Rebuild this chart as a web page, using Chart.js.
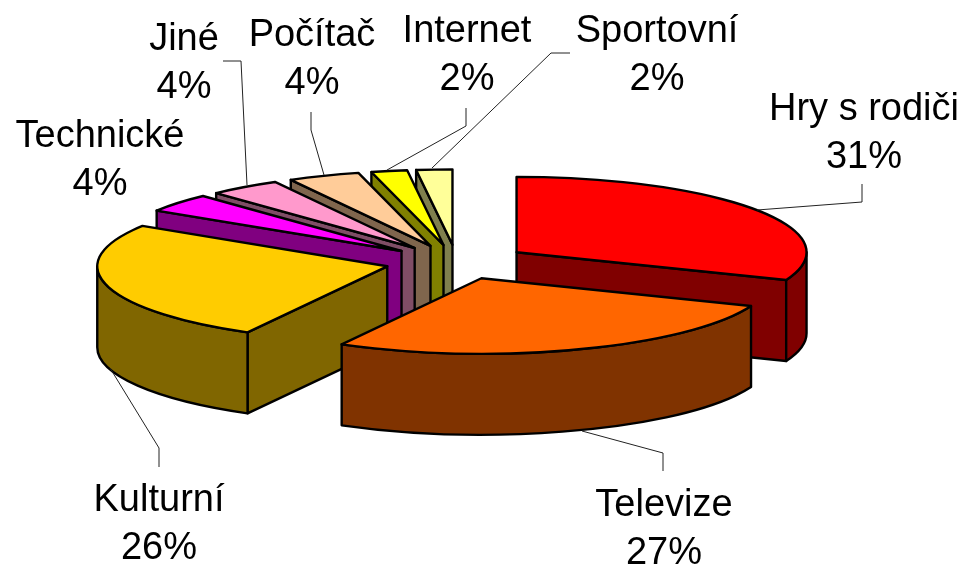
<!DOCTYPE html>
<html>
<head>
<meta charset="utf-8">
<style>html,body{margin:0;padding:0;background:#fff}canvas{display:block}</style>
<script src="https://cdn.jsdelivr.net/npm/chart.js@4"></script>
</head>
<body>
<canvas id="c" width="961" height="565"></canvas>
<script>
const categories = ['Hry s rodiči','Televize','Kulturní','Technické','Jiné','Počítač','Internet','Sportovní'];
const shares = [31,27,26,4,4,4,2,2];
const topColors = ['#FF0000','#FF6600','#FFCC00','#FF00FF','#FF99CC','#FFCC99','#FFFF00','#FFFF99'];
const sideColors = ['#800000','#803300','#806600','#800080','#804D66','#80664D','#808000','#80804D'];
const drawOrder = [7,6,5,4,3,2,0,1];
const labelCentres = [864,664,159,100,184,312,467,657];
const labelBaselines = [120,516,511,147,50,46,42,42];
const leaders = [
  [[757,210],[862,202],[862,184]],
  [[582,431],[663,453],[663,471]],
  [[110,368],[159,448],[159,467]],
  [],
  [[247,185],[241,61],[223,61]],
  [[324,175],[311,130],[311,112]],
  [[387,170],[466,126],[466,108]],
  [[432,168],[551,53],[570,53]]
];
const TILT = 0.26, DEPTH = 81, EXPLODE = 72, EXPLODE_TILT = 0.24, LINE_GAP = 47.5;

const pie3d = {
  id: 'pie3d',
  beforeDatasetDraw(chart) {
    const ctx = chart.ctx, arcs = chart.getDatasetMeta(0).data;
    drawOrder.forEach(i => {
      const a = arcs[i], mid = (a.startAngle + a.endAngle) / 2;
      const ox = a.x + Math.cos(mid) * EXPLODE;
      const oy = a.y + Math.sin(mid) * EXPLODE * EXPLODE_TILT;
      const R = a.outerRadius;
      const pt = t => [ox + R * Math.cos(t), oy + R * Math.sin(t) * TILT];
      const quad = t => {
        const p = pt(t);
        ctx.beginPath();
        ctx.moveTo(ox, oy); ctx.lineTo(p[0], p[1]);
        ctx.lineTo(p[0], p[1] + DEPTH); ctx.lineTo(ox, oy + DEPTH);
        ctx.closePath(); ctx.fill(); ctx.stroke();
      };
      ctx.save();
      ctx.fillStyle = sideColors[i];
      ctx.strokeStyle = '#000';
      ctx.lineWidth = 2.4;
      ctx.lineJoin = 'round';
      if (Math.cos(a.startAngle) < -1e-6) quad(a.startAngle);
      if (Math.cos(a.endAngle) > 1e-6) quad(a.endAngle);
      // outer wall: visible part of the rim
      const tau = Math.PI * 2;
      for (let k = -1; k <= 1; k++) {
        const s = Math.max(a.startAngle, k * tau), e = Math.min(a.endAngle, k * tau + Math.PI);
        if (e > s) {
          ctx.beginPath();
          ctx.ellipse(ox, oy, R, R * TILT, 0, s, e, false);
          ctx.ellipse(ox, oy + DEPTH, R, R * TILT, 0, e, s, true);
          ctx.closePath(); ctx.fill(); ctx.stroke();
        }
      }
      // top face, drawn by the library's own arc element
      ctx.save();
      ctx.translate(ox, oy);
      ctx.scale(1, TILT);
      ctx.translate(-a.x, -a.y);
      a.draw(ctx);
      ctx.restore();
      ctx.beginPath();
      ctx.moveTo(ox, oy);
      ctx.ellipse(ox, oy, R, R * TILT, 0, a.startAngle, a.endAngle, false);
      ctx.closePath(); ctx.stroke();
      ctx.restore();
    });
    return false;
  },
  afterDraw(chart) {
    const ctx = chart.ctx;
    ctx.save();
    ctx.strokeStyle = '#222';
    ctx.lineWidth = 1;
    leaders.forEach(l => {
      if (!l.length) return;
      ctx.beginPath();
      l.forEach((p, j) => j ? ctx.lineTo(p[0], p[1]) : ctx.moveTo(p[0], p[1]));
      ctx.stroke();
    });
    ctx.fillStyle = '#000';
    ctx.font = '38px "Liberation Sans", Arial, sans-serif';
    ctx.textAlign = 'center';
    ctx.textBaseline = 'alphabetic';
    categories.forEach((name, i) => {
      ctx.fillText(name, labelCentres[i], labelBaselines[i]);
      ctx.fillText(shares[i] + '%', labelCentres[i], labelBaselines[i] + LINE_GAP);
    });
    ctx.restore();
  }
};

new Chart(document.getElementById('c'), {
  type: 'pie',
  data: { labels: categories, datasets: [{ data: shares, backgroundColor: topColors, borderWidth: 0 }] },
  options: {
    responsive: false,
    animation: false,
    radius: 290,
    layout: { padding: { left: 0, top: 0, right: 47, bottom: 41 } },
    plugins: { legend: { display: false }, tooltip: { enabled: false } }
  },
  plugins: [pie3d]
});
</script>
</body>
</html>
